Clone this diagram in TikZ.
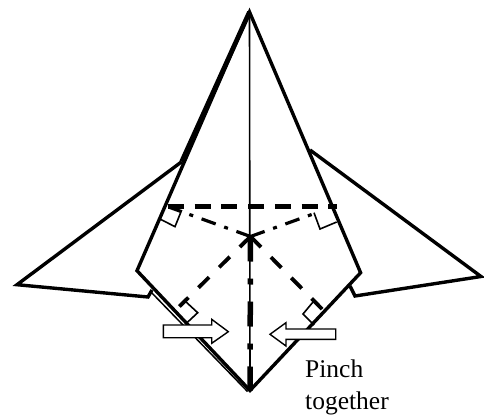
\documentclass[tikz,border=0pt]{standalone}
\usepackage{fontspec}
\setmainfont{Liberation Serif}
\tikzset{
  edgeline/.style={line width=3.4pt,line join=miter,miter limit=4},
  upperleft/.style={line width=4.8pt,line cap=butt},
  thinline/.style={line width=1.5pt},
  markline/.style={line width=1.6pt},
  foldvalley/.style={line width=4.6pt,dash pattern=on 16pt off 10.7pt},
  folddash/.style={line width=3.8pt,dash pattern=on 15pt off 14pt},
  folddot/.style={line width=3.2pt,dash pattern=on 15pt off 9pt on 4pt off 9pt},
  foldmid/.style={line width=5.5pt,dash pattern=on 25pt off 17pt on 6pt off 17pt},
  pinch/.style={draw=black,fill=white,line width=1.4pt,line join=miter},
  lbl/.style={inner sep=0pt,anchor=base west,font=\fontsize{25.5}{25.5}\selectfont}
}
\begin{document}
\begin{tikzpicture}[x=1pt,y=-1pt]
\useasboundingbox (0,0) rectangle (484,417);
\coordinate (top) at (249.5,12);
\coordinate (bot) at (250,390.5);
\coordinate (ctr) at (250.5,236.5);
\coordinate (lc) at (137,270.7);
\coordinate (rc) at (360.6,272.7);
\coordinate (lw) at (181.7,161.7);
% wings
\draw[edgeline] (lw) -- (17,284.7) -- (148,297) -- (152,290);
\draw[edgeline] (310,150) -- (481,276.5) -- (355,296) -- (350,286);
% body
\draw[edgeline] (bot) -- (lc) -- (top) -- (rc) -- cycle;
\draw[upperleft] (top) -- (lw);
% second layer on lower-left edge
\draw[thinline] (150,291) -- (247.5,391.5);
% centre line
\draw[line width=1.6pt] (top) -- (bot);
\draw[foldmid] (ctr) -- (bot);
% horizontal fold
\draw[foldvalley] (168,206.7) -- (337,206.7);
% dash-dot folds
\draw[folddot] (ctr) -- (316.7,212.7);
\draw[folddot] (ctr) -- (170,207.5);
% dashed folds
\draw[folddash] (ctr) -- (179.3,306.5);
\draw[folddash] (ctr) -- (323,310);
% right-angle marks
\draw[markline] (181.7,210) -- (175,226.7) -- (160,219);
\draw[markline] (314,212.7) -- (320,229) -- (336.7,222);
\draw[markline] (185,301) -- (197.7,312.7) -- (186.7,323);
\draw[markline] (313,302) -- (303,314) -- (314,325);
% arrows
\draw[pinch] (163.3,325) -- (211.7,325) -- (211.7,319.3) -- (228.3,331.7) -- (211.7,343.3) -- (211.7,337.7) -- (163.3,337.7) -- cycle;
\draw[pinch] (335.7,329) -- (286,329) -- (286,322.7) -- (270,334.3) -- (286,346) -- (286,339.3) -- (335.7,339.3) -- cycle;
\node[lbl] (t1) at (305,377.3) {Pinch};
\node[lbl] (t2) at (305,409) {together};
\end{tikzpicture}
\end{document}
